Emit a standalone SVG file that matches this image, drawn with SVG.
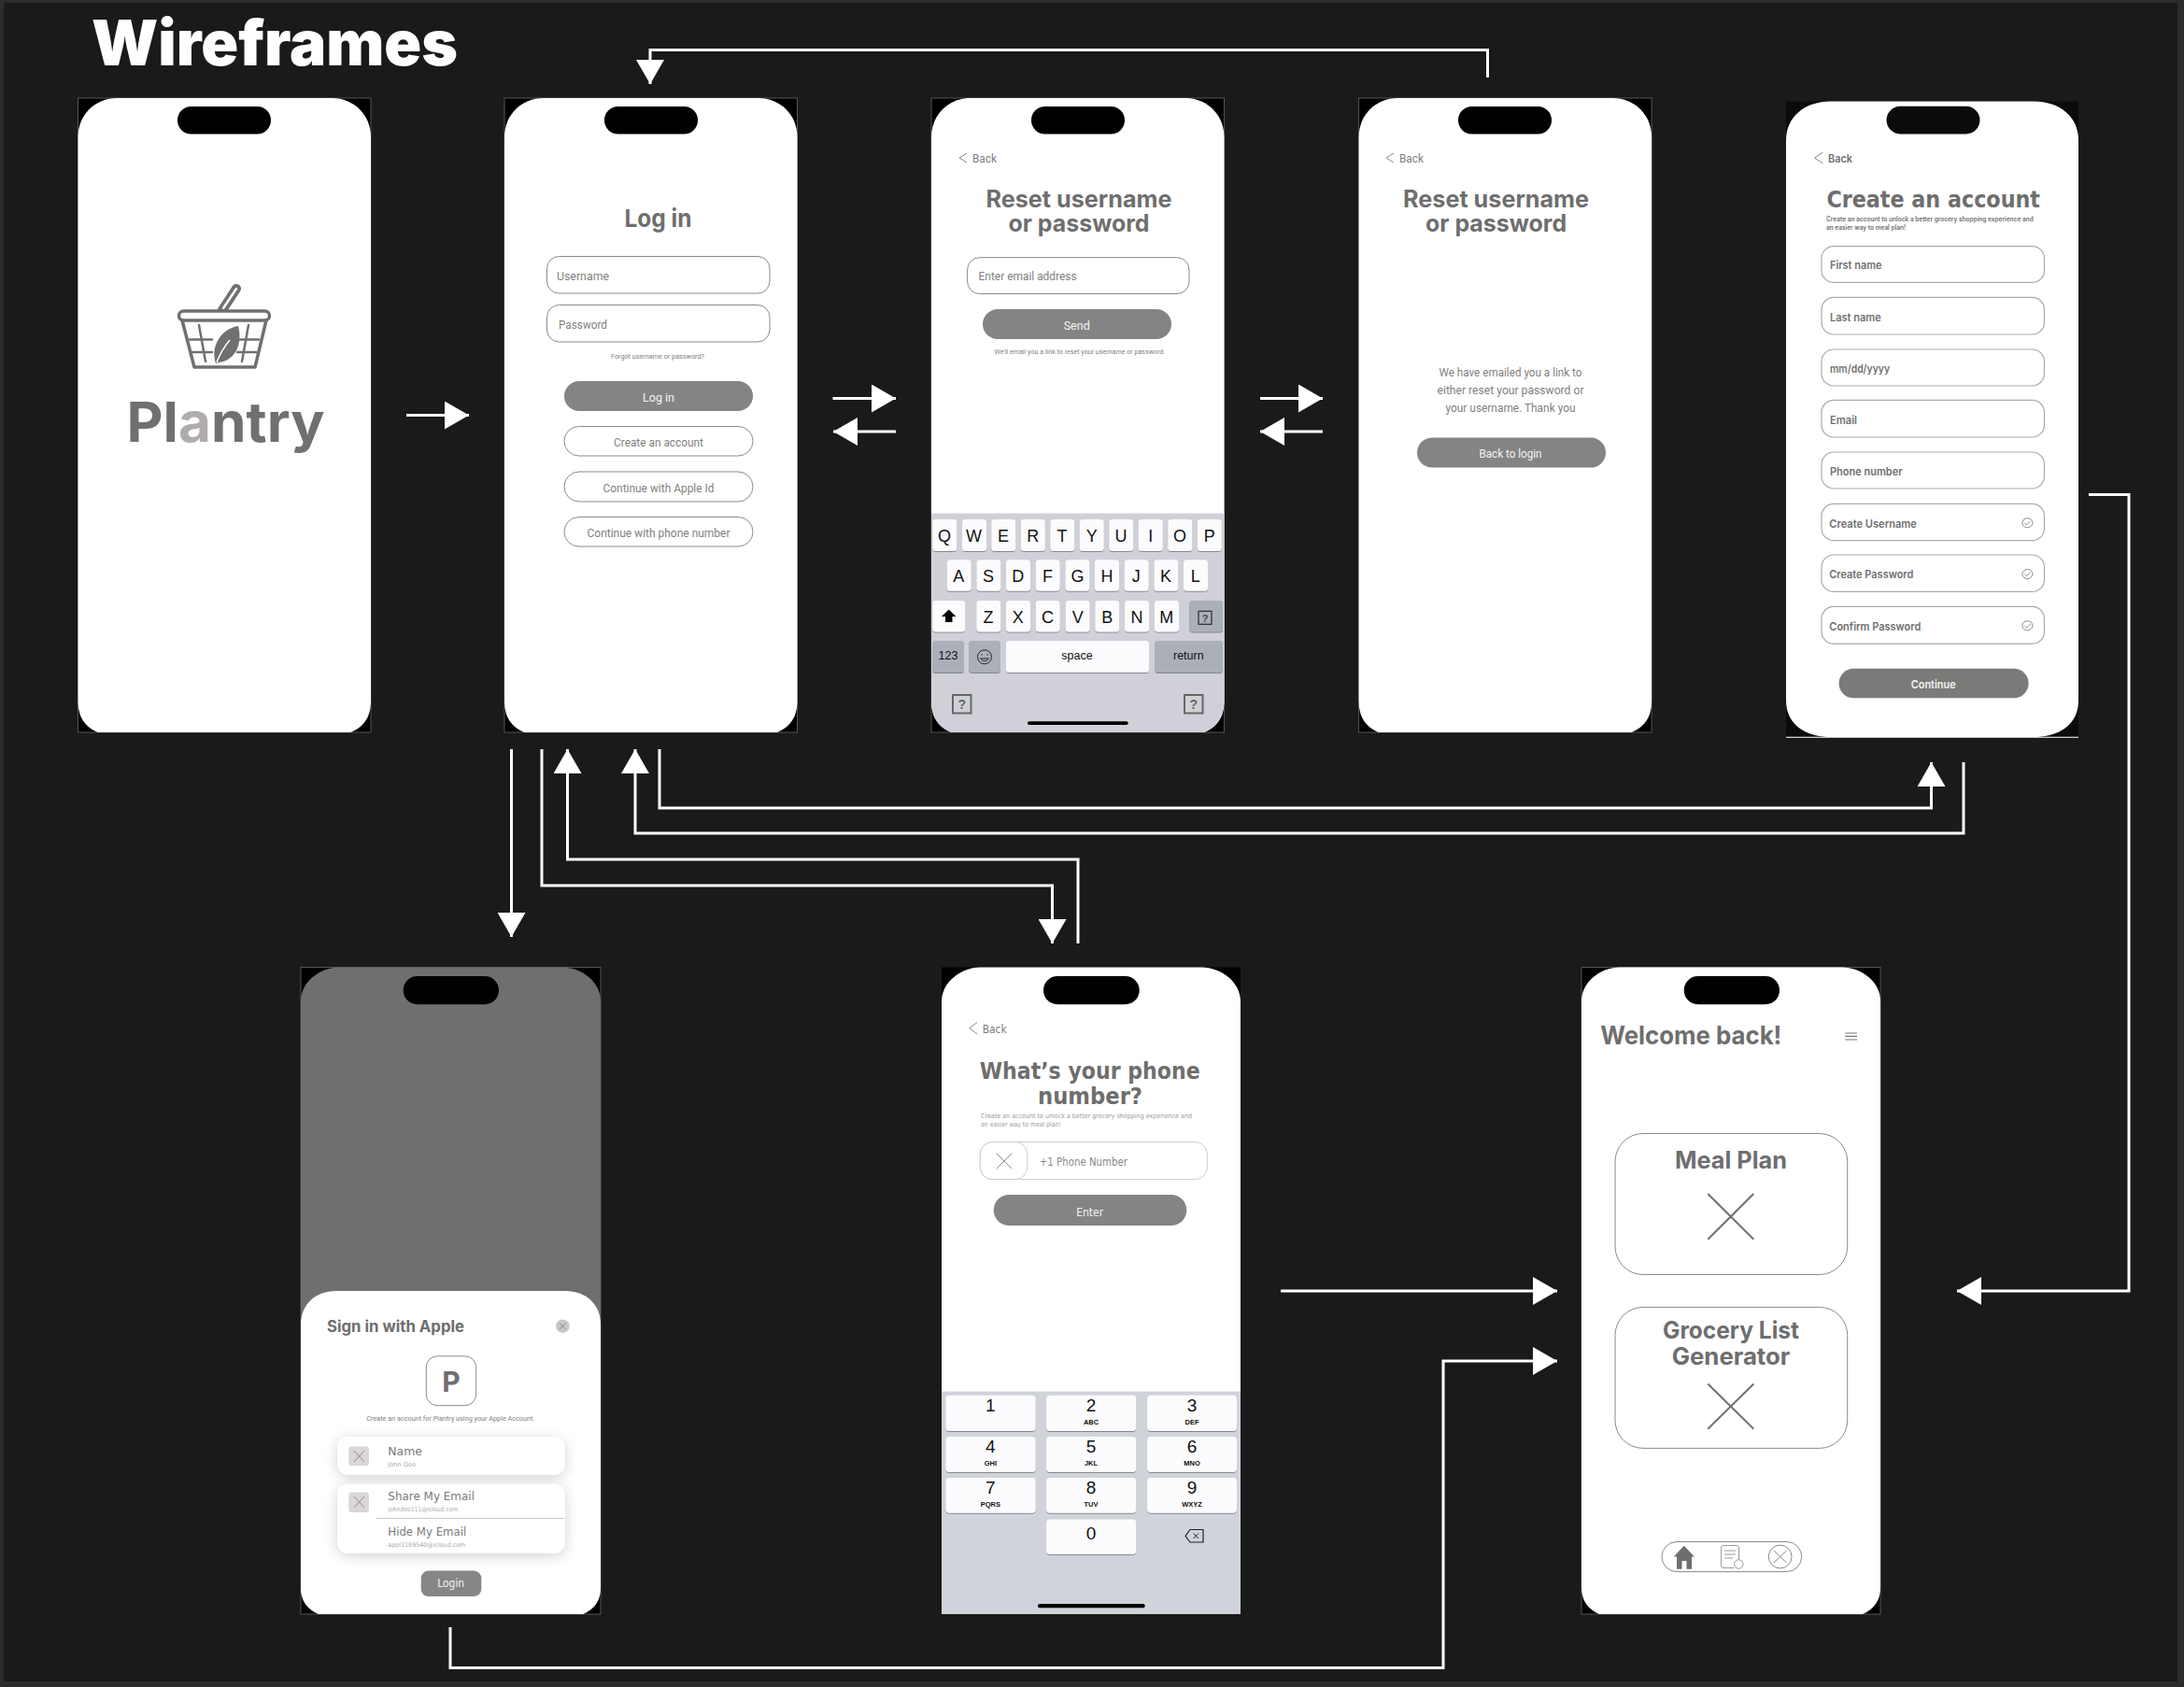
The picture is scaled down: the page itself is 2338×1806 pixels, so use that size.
<svg xmlns="http://www.w3.org/2000/svg" width="2338" height="1806" viewBox="0 0 2338 1806">
<style>
.h{font-family:Inter,"Liberation Sans",sans-serif;font-weight:700;fill:#6e6e6e}
.w{font-family:"DejaVu Sans","Liberation Sans",sans-serif;font-weight:700;fill:#6e6e6e}
.s{font-family:Roboto,"Liberation Sans",sans-serif;font-weight:400;fill:#7f7f7f}
.ws{font-family:"DejaVu Sans","Liberation Sans",sans-serif;font-weight:400;fill:#7a7a7a}
.wb{font-family:Inter,"Liberation Sans",sans-serif;font-weight:600;fill:#707070}
.k{font-family:"Liberation Sans",Arial,sans-serif;fill:#111;text-anchor:middle}
.m{text-anchor:middle}
.back{fill:#000;stroke:#555;stroke-width:1}
.fld{fill:#fff;stroke:#8a8a8a;stroke-width:1}
.fl2{fill:#fff;stroke:#aaa;stroke-width:1.2}
.btn{fill:#858484}
.key{fill:#fcfcfe}
.gk{fill:#abb0b8}
.conn{fill:none;stroke:#fff;stroke-width:3;marker-end:url(#ah)}
.ln{fill:none;stroke:#8a8a8a;stroke-width:1}
</style>
<defs>
<marker id="ah" markerUnits="userSpaceOnUse" markerWidth="26" markerHeight="30" viewBox="0 0 26 30" refX="26" refY="15" orient="auto"><path d="M0,0 L26,15 L0,30 Z" fill="#fff"/></marker>
<path id="bodyT" d="M0,42 C0,18 18,0 42,0 H271.5 C295.5,0 313.5,18 313.5,42 V646 Q313.5,670 292,679 H21 Q0,670 0,646 Z"/>
<path id="bodyB" d="M0,36 C0,16 20,0 42,0 H279 C301,0 321,16 321,36 V664 Q321,684 302,692.5 H19 Q0,684 0,664 Z"/>
<filter id="ks" x="-10%" y="-10%" width="120%" height="120%"><feDropShadow dx="0" dy="1" stdDeviation="0.3" flood-color="#85868c"/></filter>
<filter id="cs" x="-15%" y="-30%" width="130%" height="170%"><feDropShadow dx="0" dy="3" stdDeviation="7" flood-color="#000" flood-opacity="0.18"/></filter>
</defs>
<rect width="2338" height="1806" fill="#2c2c2c"/>
<rect x="4" y="3" width="2327" height="1797" fill="#1a1a1a"/>
<text id="title" x="98" y="70" font-family="Inter,'Liberation Sans',sans-serif" font-weight="900" font-size="67" fill="#fff" textLength="392" lengthAdjust="spacingAndGlyphs">Wireframes</text>

<g id="connectors">
<path class="conn" d="M435,444.5 H502"/>
<path class="conn" d="M1592.5,83 V53.500 H696 V90"/>
<path class="conn" d="M891.500,426.500 H959"/>
<path class="conn" d="M959,462 H892"/>
<path class="conn" d="M1349,426.500 H1416"/>
<path class="conn" d="M1416,462 H1349"/>
<path class="conn" d="M547.500,802 V1003"/>
<path class="conn" d="M1154,1010 V920 H607.500 V802"/>
<path class="conn" d="M580,802 V948 H1126.500 V1010"/>
<path class="conn" d="M706,802 V865 H2067.500 V816"/>
<path class="conn" d="M2102,816 V892 H680 V802"/>
<path class="conn" d="M2236,529.500 H2279 V1382 H2095"/>
<path class="conn" d="M1371,1382 H1667"/>
<path class="conn" d="M482,1742 V1785.500 H1545 V1457 H1667"/>
</g>

<g id="splash">
<rect class="back" x="83.500" y="105" width="313.500" height="679"/>
<use href="#bodyT" x="83.500" y="105" fill="#fff"/>
<rect x="190" y="114" width="100" height="29.500" rx="14.700" fill="#000"/>
<g fill="none" stroke="#707070" stroke-linecap="round">
<path d="M238,332 L253,309" stroke-width="10"/>
<path d="M239,330 L253,309" stroke="#fff" stroke-width="2.500"/>
<rect x="191.500" y="333" width="97" height="10" rx="5" fill="#fff" stroke-width="3.500"/>
<path d="M195,343 L208,393 H273 L285,343" stroke-width="3.500" stroke-linejoin="round"/>
<path d="M213,348 L220,387 M266,348 L259,387 M203,363.500 H227 M253,363.500 H277 M206,377 H227 M254,377 H274" stroke-width="2.500"/>
</g>
<path d="M255,349 C260,368 252,386 234,388 L231,389 C225,372 236,352 255,349 Z" fill="#707070"/>
<path d="M232,388 C236,377 241,370 246,364" fill="none" stroke="#fff" stroke-width="1.500"/>
<text x="135.500" y="473" font-family="Inter,'Liberation Sans',sans-serif" font-weight="700" font-size="59" fill="#707070" textLength="212" lengthAdjust="spacingAndGlyphs">Pl<tspan fill="#b0acac">a</tspan>ntry</text>
</g>

<g id="login">
<rect class="back" x="540" y="105" width="313.500" height="679"/>
<use href="#bodyT" x="540" y="105" fill="#fff"/>
<rect x="647" y="114" width="100" height="29.500" rx="14.700" fill="#000"/>
<text class="h m" x="704.500" y="243" font-size="26" font-weight="600" textLength="72" lengthAdjust="spacingAndGlyphs">Log in</text>
<rect class="fld" x="585.500" y="274.500" width="238.500" height="39.500" rx="13"/>
<text class="s" x="596" y="300" font-size="12.500" textLength="56" lengthAdjust="spacingAndGlyphs">Username</text>
<rect class="fld" x="585.500" y="326.500" width="238.500" height="39.500" rx="13"/>
<text class="s" x="598" y="352" font-size="12.500" textLength="52" lengthAdjust="spacingAndGlyphs">Password</text>
<text class="s m" x="704" y="384" font-size="7" textLength="100" lengthAdjust="spacingAndGlyphs">Forgot username or password?</text>
<rect class="btn" x="604" y="408" width="202" height="32" rx="16"/>
<text class="s m" x="705" y="430" font-size="12.500" style="fill:#f4f4f4">Log in</text>
<rect class="fld" x="604" y="456.500" width="202" height="31.500" rx="15.700"/>
<text class="s m" x="705" y="478" font-size="12.500" textLength="96" lengthAdjust="spacingAndGlyphs">Create an account</text>
<rect class="fld" x="604" y="505" width="202" height="32" rx="16"/>
<text class="s m" x="705" y="526.500" font-size="12.500" textLength="119" lengthAdjust="spacingAndGlyphs">Continue with Apple Id</text>
<rect class="fld" x="604" y="553.500" width="202" height="31.500" rx="15.700"/>
<text class="s m" x="705" y="574.500" font-size="12.500" textLength="153" lengthAdjust="spacingAndGlyphs">Continue with phone number</text>
</g>

<g id="reset-request">
<rect class="back" x="997" y="105" width="313.500" height="679"/>
<use href="#bodyT" x="997" y="105" fill="#fff"/>
<path d="M997,549.600 H1310.500 V751 Q1310.500,775 1289,784 H1018 Q997,775 997,751 Z" fill="#d0d1d8"/>
<rect x="1104" y="114" width="100" height="29.500" rx="14.700" fill="#000"/>
<path class="ln" d="M1035,164 L1027,169 L1035,174"/>
<text class="s" x="1041" y="174" font-size="12" textLength="26" lengthAdjust="spacingAndGlyphs">Back</text>
<text class="h m" x="1155" y="222.400" font-size="25" textLength="199" lengthAdjust="spacingAndGlyphs">Reset username</text>
<text class="h m" x="1155" y="248" font-size="25" textLength="151" lengthAdjust="spacingAndGlyphs">or password</text>
<rect class="fld" x="1035.600" y="275.700" width="237.400" height="38.800" rx="13" stroke="#777"/>
<text class="s" x="1047.600" y="300.400" font-size="12.500" textLength="105" lengthAdjust="spacingAndGlyphs">Enter email address</text>
<rect class="btn" x="1052" y="331" width="202" height="32" rx="16"/>
<text class="s m" x="1152.700" y="352.800" font-size="12.500" style="fill:#f4f4f4">Send</text>
<text class="s m" x="1155" y="378.500" font-size="7" textLength="181" lengthAdjust="spacingAndGlyphs">We'll email you a link to reset your username or password</text>
<g filter="url(#ks)">
<g class="key">
<rect x="998.300" y="556" width="26" height="34" rx="3.500"/><rect x="1030" y="556" width="26" height="34" rx="3.500"/><rect x="1061.300" y="556" width="26" height="34" rx="3.500"/><rect x="1092.800" y="556" width="26" height="34" rx="3.500"/><rect x="1124.300" y="556" width="26" height="34" rx="3.500"/><rect x="1155.800" y="556" width="26" height="34" rx="3.500"/><rect x="1187.300" y="556" width="26" height="34" rx="3.500"/><rect x="1218.800" y="556" width="26" height="34" rx="3.500"/><rect x="1250.300" y="556" width="26" height="34" rx="3.500"/><rect x="1281.800" y="556" width="26" height="34" rx="3.500"/>
<rect x="1013.700" y="599.300" width="26" height="33.500" rx="3.500"/><rect x="1045.400" y="599.300" width="26" height="33.500" rx="3.500"/><rect x="1077" y="599.300" width="26" height="33.500" rx="3.500"/><rect x="1108.700" y="599.300" width="26" height="33.500" rx="3.500"/><rect x="1140.400" y="599.300" width="26" height="33.500" rx="3.500"/><rect x="1172" y="599.300" width="26" height="33.500" rx="3.500"/><rect x="1203.700" y="599.300" width="26" height="33.500" rx="3.500"/><rect x="1235.400" y="599.300" width="26" height="33.500" rx="3.500"/><rect x="1267" y="599.300" width="26" height="33.500" rx="3.500"/>
<rect x="998.300" y="643" width="35" height="33.500" rx="3.500"/><rect x="1045.300" y="643" width="26" height="33.500" rx="3.500"/><rect x="1077" y="643" width="26" height="33.500" rx="3.500"/><rect x="1108.700" y="643" width="26" height="33.500" rx="3.500"/><rect x="1140.700" y="643" width="26" height="33.500" rx="3.500"/><rect x="1172.300" y="643" width="26" height="33.500" rx="3.500"/><rect x="1204" y="643" width="26" height="33.500" rx="3.500"/><rect x="1236" y="643" width="26" height="33.500" rx="3.500"/>
<rect x="1077" y="686" width="153" height="34" rx="3.500"/>
</g>
<g class="gk">
<rect x="1273.300" y="643" width="35.700" height="33.500" rx="3.500"/>
<rect x="998" y="686" width="34" height="34" rx="3.500"/><rect x="1037" y="686" width="34" height="34" rx="3.500"/><rect x="1236" y="686" width="73" height="34" rx="3.500"/>
</g>
</g>
<g class="k" font-size="18">
<text x="1011" y="580">Q</text><text x="1042.500" y="580">W</text><text x="1074" y="580">E</text><text x="1105.800" y="580">R</text><text x="1137" y="580">T</text><text x="1168.800" y="580">Y</text><text x="1200" y="580">U</text><text x="1231.800" y="580">I</text><text x="1263" y="580">O</text><text x="1294.800" y="580">P</text>
<text x="1026.300" y="623.300">A</text><text x="1058" y="623.300">S</text><text x="1089.700" y="623.300">D</text><text x="1121.500" y="623.300">F</text><text x="1153.400" y="623.300">G</text><text x="1185" y="623.300">H</text><text x="1216.300" y="623.300">J</text><text x="1248" y="623.300">K</text><text x="1279.700" y="623.300">L</text>
<text x="1058" y="666.700">Z</text><text x="1089.700" y="666.700">X</text><text x="1121.500" y="666.700">C</text><text x="1153.700" y="666.700">V</text><text x="1185.300" y="666.700">B</text><text x="1217" y="666.700">N</text><text x="1248.700" y="666.700">M</text>
</g>
<g class="k" font-size="12.500">
<text x="1015" y="705.700">123</text><text x="1153" y="705.700">space</text><text x="1272.300" y="705.700">return</text>
</g>
<path d="M1015.700,652.500 L1023.500,660 H1019.500 V666 H1012 V660 H1008 Z" fill="#000"/>
<g fill="none" stroke="#222" stroke-width="1"><circle cx="1054" cy="703.300" r="7.500"/><path d="M1049.500,705 Q1054,710.500 1058.500,705 Z"/><path d="M1051,700 v1.500 M1057,700 v1.500"/></g>
<rect x="1283" y="654.300" width="14" height="14" fill="none" stroke="#333" stroke-width="1.300"/>
<text x="1290" y="666" font-family="'Liberation Sans',sans-serif" font-size="11" font-weight="700" fill="#444" text-anchor="middle">?</text>
<rect x="1020" y="744" width="19.500" height="19.500" fill="none" stroke="#666" stroke-width="2"/>
<text x="1029.700" y="759" font-family="'Liberation Sans',sans-serif" font-size="14" font-weight="700" fill="#666" text-anchor="middle">?</text>
<rect x="1268" y="744" width="19.500" height="19.500" fill="none" stroke="#666" stroke-width="2"/>
<text x="1277.700" y="759" font-family="'Liberation Sans',sans-serif" font-size="14" font-weight="700" fill="#666" text-anchor="middle">?</text>
<rect x="1100" y="772.300" width="107.700" height="3.700" rx="1.800" fill="#000"/>
</g>

<g id="reset-sent">
<rect class="back" x="1454.600" y="105" width="313.500" height="679"/>
<use href="#bodyT" x="1454.600" y="105" fill="#fff"/>
<rect x="1561" y="114" width="100" height="29.500" rx="14.700" fill="#000"/>
<path class="ln" d="M1492,164 L1484,169 L1492,174"/>
<text class="s" x="1498" y="174" font-size="12" textLength="26" lengthAdjust="spacingAndGlyphs">Back</text>
<text class="h m" x="1601.600" y="222.400" font-size="25" textLength="199" lengthAdjust="spacingAndGlyphs">Reset username</text>
<text class="h m" x="1601.600" y="248" font-size="25" textLength="151" lengthAdjust="spacingAndGlyphs">or password</text>
<text class="s m" x="1617" y="403" font-size="12" textLength="153" lengthAdjust="spacingAndGlyphs">We have emailed you a link to</text>
<text class="s m" x="1617" y="421.600" font-size="12" textLength="157" lengthAdjust="spacingAndGlyphs">either reset your password or</text>
<text class="s m" x="1617" y="440.500" font-size="12" textLength="139" lengthAdjust="spacingAndGlyphs">your username. Thank you</text>
<rect class="btn" x="1517" y="468.600" width="202" height="32" rx="16"/>
<text class="s m" x="1617" y="490.400" font-size="12.500" textLength="67" lengthAdjust="spacingAndGlyphs" style="fill:#f4f4f4">Back to login</text>
</g>

<g id="create-account">
<rect x="1912" y="108.500" width="313" height="681" fill="#0b0b0a"/>
<rect x="1912" y="788.700" width="313" height="1.200" fill="#ddd"/>
<path d="M1912,150 C1912,125 1932,108.500 1960,108.500 H2177 C2205,108.500 2225,125 2225,150 V750 C2225,775 2205,789 2177,789 H1960 C1932,789 1912,775 1912,750 Z" fill="#fff"/>
<rect x="2019.500" y="113.800" width="100" height="29.600" rx="14.800" fill="#0b0b0a"/>
<path class="ln" d="M1951.500,163 L1942.600,169 L1951.500,175"/>
<text class="wb" x="1957" y="174" font-size="11.500" textLength="26" lengthAdjust="spacingAndGlyphs">Back</text>
<text class="w" x="1955.400" y="222" font-size="25" textLength="228.600" lengthAdjust="spacingAndGlyphs">Create an account</text>
<text class="wb" x="1955" y="237.400" font-size="7" textLength="221.700" lengthAdjust="spacingAndGlyphs">Create an account to unlock a better grocery shopping experience and</text>
<text class="wb" x="1955" y="246" font-size="7" textLength="85" lengthAdjust="spacingAndGlyphs">an easier way to meal plan!</text>
<rect class="fl2" x="1950" y="263.600" width="238.500" height="38.800" rx="13"/>
<rect class="fl2" x="1950" y="318.400" width="238.500" height="39.600" rx="13"/>
<rect class="fl2" x="1950" y="374" width="238.500" height="39" rx="13"/>
<rect class="fl2" x="1950" y="428.400" width="238.500" height="39.600" rx="13"/>
<rect class="fl2" x="1950" y="484" width="238.500" height="39" rx="13"/>
<rect class="fl2" x="1950" y="539.400" width="238.500" height="39.300" rx="13"/>
<rect class="fl2" x="1950" y="594" width="238.500" height="39.400" rx="13"/>
<rect class="fl2" x="1950" y="649.400" width="238.500" height="39.800" rx="13"/>
<text class="wb" x="1959" y="288.300" font-size="12" textLength="55.500" lengthAdjust="spacingAndGlyphs">First name</text>
<text class="wb" x="1959" y="344" font-size="12" textLength="54.800" lengthAdjust="spacingAndGlyphs">Last name</text>
<text class="wb" x="1959" y="399.300" font-size="12" textLength="64" lengthAdjust="spacingAndGlyphs">mm/dd/yyyy</text>
<text class="wb" x="1959" y="454" font-size="12" textLength="29" lengthAdjust="spacingAndGlyphs">Email</text>
<text class="wb" x="1959" y="509.300" font-size="12" textLength="77.600" lengthAdjust="spacingAndGlyphs">Phone number</text>
<text class="wb" x="1958.300" y="564.500" font-size="12" textLength="93.600" lengthAdjust="spacingAndGlyphs">Create Username</text>
<text class="wb" x="1958.300" y="619.400" font-size="12" textLength="90" lengthAdjust="spacingAndGlyphs">Create Password</text>
<text class="wb" x="1958.300" y="675" font-size="12" textLength="98" lengthAdjust="spacingAndGlyphs">Confirm Password</text>
<g class="ln">
<ellipse cx="2170.400" cy="559.800" rx="5.500" ry="5"/><path d="M2167.500,560 l2,2 l4,-4"/>
<ellipse cx="2170.400" cy="614.500" rx="5.500" ry="5"/><path d="M2167.500,614.700 l2,2 l4,-4"/>
<ellipse cx="2170.400" cy="669.800" rx="5.500" ry="5"/><path d="M2167.500,670 l2,2 l4,-4"/>
</g>
<rect x="1968.600" y="715.800" width="203" height="31.500" rx="15.700" fill="#7a7a78"/>
<text class="wb m" x="2069.700" y="737" font-size="12" textLength="48" lengthAdjust="spacingAndGlyphs" style="fill:#f4f4f4">Continue</text>
</g>

<g id="apple-sign-in">
<rect class="back" x="322" y="1035.500" width="321" height="692.500"/>
<use href="#bodyB" x="322" y="1035.500" fill="#6f6f6f"/>
<path d="M322,1418 C322,1396 338,1382 360,1382 H605 C627,1382 643,1396 643,1418 V1700 Q643,1720 624,1728 H341 Q322,1720 322,1700 Z" fill="#fff"/>
<rect x="431.700" y="1045" width="102.300" height="30.200" rx="15" fill="#000"/>
<text class="h" x="350" y="1426.300" font-size="17" textLength="147" lengthAdjust="spacingAndGlyphs">Sign in with Apple</text>
<circle cx="602.300" cy="1419.700" r="7.300" fill="#c8c8c8"/>
<path class="ln" d="M599,1416.500 L605.600,1423 M605.600,1416.500 L599,1423" stroke="#777"/>
<rect class="fld" x="456.300" y="1451.800" width="53.400" height="52.900" rx="12" stroke="#777"/>
<text class="h m" x="483" y="1489.600" font-size="30">P</text>
<text class="s m" x="482.300" y="1521" font-size="7" textLength="180" lengthAdjust="spacingAndGlyphs">Create an account for Plantry using your Apple Account.</text>
<rect x="361" y="1538" width="244" height="40.800" rx="12" fill="#fff" filter="url(#cs)"/>
<rect x="361" y="1588.700" width="244" height="74.100" rx="12" fill="#fff" filter="url(#cs)"/>
<rect x="373.300" y="1548.600" width="21.700" height="20.700" rx="3" fill="#dbd7d7"/>
<path class="ln" d="M379,1553 L390,1565 M390,1553 L379,1565"/>
<rect x="373.300" y="1597.600" width="21.700" height="21.300" rx="3" fill="#dbd7d7"/>
<path class="ln" d="M379,1602 L390,1614 M390,1602 L379,1614"/>
<path d="M402,1625.500 H604.300" stroke="#ccc" stroke-width="1.200"/>
<text class="ws" x="415.300" y="1558" font-size="13" textLength="36.700" lengthAdjust="spacingAndGlyphs">Name</text>
<text class="ws" x="415.300" y="1569.800" font-size="6.500" textLength="30" lengthAdjust="spacingAndGlyphs" style="fill:#aaa">John Doe</text>
<text class="ws" x="415.300" y="1606" font-size="13" textLength="92.700" lengthAdjust="spacingAndGlyphs">Share My Email</text>
<text class="ws" x="415.300" y="1617.500" font-size="6.500" textLength="75" lengthAdjust="spacingAndGlyphs" style="fill:#aaa">johndoe111@icloud.com</text>
<text class="ws" x="415.300" y="1644" font-size="13" textLength="84" lengthAdjust="spacingAndGlyphs">Hide My Email</text>
<text class="ws" x="415.300" y="1655.700" font-size="6.500" textLength="83" lengthAdjust="spacingAndGlyphs" style="fill:#aaa">appl3189540@icloud.com</text>
<rect x="450.700" y="1681.600" width="64.600" height="27.400" rx="8" fill="#868686"/>
<text class="ws m" x="482.700" y="1698.600" font-size="12" textLength="29" lengthAdjust="spacingAndGlyphs" style="fill:#f4f4f4">Login</text>
</g>

<g id="phone-number">
<rect x="1008" y="1035.500" width="320" height="692.500" fill="#000"/>
<path d="M1008,1072 C1008,1052 1028,1035.500 1050,1035.500 H1286 C1308,1035.500 1328,1052 1328,1072 V1728 H1008 Z" fill="#fff"/>
<rect x="1008" y="1489.600" width="320" height="238.400" fill="#d0d3da"/>
<rect x="1117" y="1045" width="102.700" height="30.200" rx="15" fill="#000"/>
<path class="ln" d="M1046,1094.600 L1037.700,1100.700 L1046,1106.800"/>
<text class="ws" x="1051.700" y="1106.400" font-size="12" textLength="26" lengthAdjust="spacingAndGlyphs">Back</text>
<text class="w m" x="1166.700" y="1155.400" font-size="25" textLength="236" lengthAdjust="spacingAndGlyphs">What’s your phone</text>
<text class="w m" x="1167" y="1182.300" font-size="25" textLength="112" lengthAdjust="spacingAndGlyphs">number?</text>
<text class="ws" x="1050" y="1197" font-size="7" textLength="226" lengthAdjust="spacingAndGlyphs" style="fill:#999">Create an account to unlock a better grocery shopping experience and</text>
<text class="ws" x="1050" y="1206" font-size="7" textLength="86" lengthAdjust="spacingAndGlyphs" style="fill:#999">an easier way to meal plan!</text>
<rect x="1049.300" y="1222.500" width="243" height="40.100" rx="13" fill="#fff" stroke="#cfcaca"/>
<rect x="1049.300" y="1222.500" width="50.400" height="40.100" rx="13" fill="#fff" stroke="#cfcaca"/>
<path class="ln" d="M1066.700,1234.700 L1083.300,1251.200 M1083.300,1234.700 L1066.700,1251.200"/>
<text class="ws" x="1112.700" y="1248.400" font-size="11.500" textLength="94.300" lengthAdjust="spacingAndGlyphs" style="fill:#888">+1 Phone Number</text>
<rect class="btn" x="1063.700" y="1279" width="206.600" height="33" rx="16.500"/>
<text class="ws m" x="1166.700" y="1301.700" font-size="11.500" textLength="29" lengthAdjust="spacingAndGlyphs" style="fill:#f4f4f4">Enter</text>
<g class="key" filter="url(#ks)">
<rect x="1012.300" y="1493.800" width="96.400" height="38.200" rx="4"/><rect x="1120" y="1493.800" width="96.300" height="38.200" rx="4"/><rect x="1228" y="1493.800" width="96" height="38.200" rx="4"/>
<rect x="1012.300" y="1538" width="96.400" height="38" rx="4"/><rect x="1120" y="1538" width="96.300" height="38" rx="4"/><rect x="1228" y="1538" width="96" height="38" rx="4"/>
<rect x="1012.300" y="1582" width="96.400" height="37.800" rx="4"/><rect x="1120" y="1582" width="96.300" height="37.800" rx="4"/><rect x="1228" y="1582" width="96" height="37.800" rx="4"/>
<rect x="1120" y="1626.400" width="96.300" height="37.600" rx="4"/>
</g>
<g class="k" font-size="19">
<text x="1060.300" y="1510.800">1</text><text x="1168" y="1510.800">2</text><text x="1276" y="1510.800">3</text>
<text x="1060.300" y="1554.700">4</text><text x="1168" y="1554.700">5</text><text x="1276" y="1554.700">6</text>
<text x="1060.300" y="1599">7</text><text x="1168" y="1599">8</text><text x="1276" y="1599">9</text>
<text x="1168" y="1647.600">0</text>
</g>
<g class="k" font-size="7.500" font-weight="700">
<text x="1168" y="1525">ABC</text><text x="1276" y="1525">DEF</text>
<text x="1060.300" y="1568.800">GHI</text><text x="1168" y="1568.800">JKL</text><text x="1276" y="1568.800">MNO</text>
<text x="1060.300" y="1612.700">PQRS</text><text x="1168" y="1612.700">TUV</text><text x="1276" y="1612.700">WXYZ</text>
</g>
<path d="M1274,1637.500 H1288 V1651 H1274 L1269,1644.300 Z" fill="none" stroke="#222" stroke-width="1.200" stroke-linejoin="round"/>
<path d="M1277.500,1641.500 L1283,1647 M1283,1641.500 L1277.500,1647" fill="none" stroke="#222"/>
<rect x="1111" y="1717" width="114.700" height="4.300" rx="2" fill="#000"/>
</g>

<g id="home">
<rect class="back" x="1693" y="1035.500" width="320" height="692.500"/>
<use href="#bodyB" transform="translate(1693,1035.500) scale(0.997,1)" fill="#fff"/>
<rect x="1802.700" y="1045" width="102.300" height="30.200" rx="15" fill="#000"/>
<text class="h" x="1713.300" y="1118" font-size="27" textLength="194" lengthAdjust="spacingAndGlyphs">Welcome back!</text>
<path d="M1975.300,1106 H1988 M1975.300,1109.400 H1988 M1975.300,1113 H1988" stroke="#777" stroke-width="1.200"/>
<rect class="ln" x="1729" y="1213.500" width="248.700" height="151" rx="30"/>
<text class="h m" x="1853" y="1251.200" font-size="25" textLength="120" lengthAdjust="spacingAndGlyphs">Meal Plan</text>
<path d="M1828.300,1278 L1877.300,1326.800 M1877.300,1278 L1828.300,1326.800" fill="none" stroke="#707070" stroke-width="2"/>
<rect class="ln" x="1729" y="1399.400" width="248.700" height="151" rx="30"/>
<text class="h m" x="1853" y="1433.400" font-size="25" textLength="146" lengthAdjust="spacingAndGlyphs">Grocery List</text>
<text class="h m" x="1853" y="1461.300" font-size="25" textLength="126.700" lengthAdjust="spacingAndGlyphs">Generator</text>
<path d="M1828.300,1481.500 L1877.300,1529.700 M1877.300,1481.500 L1828.300,1529.700" fill="none" stroke="#707070" stroke-width="2"/>
<rect class="ln" x="1779" y="1650.500" width="149.700" height="32.100" rx="16"/>
<path d="M1802.800,1654.700 L1791.700,1666.500 H1795 V1679.700 H1800.500 V1671 H1805.500 V1679.700 H1811 V1666.500 H1814 Z" fill="#6e6e6e"/>
<path d="M1845,1654.500 H1859 Q1861.500,1654.500 1861.500,1657 V1670 M1856,1678.500 H1845 Q1842.500,1678.500 1842.500,1676 V1657 Q1842.500,1654.500 1845,1654.500 M1846,1660 H1858 M1846,1664 H1858 M1846,1668 H1855" fill="none" stroke="#999"/>
<circle cx="1861.300" cy="1674.500" r="4.700" fill="#fff" stroke="#999"/>
<circle cx="1905.700" cy="1666.500" r="12.400" fill="#fff" stroke="#888"/>
<path class="ln" d="M1899,1660 L1912.500,1673 M1912.500,1660 L1899,1673"/>
</g>
</svg>
